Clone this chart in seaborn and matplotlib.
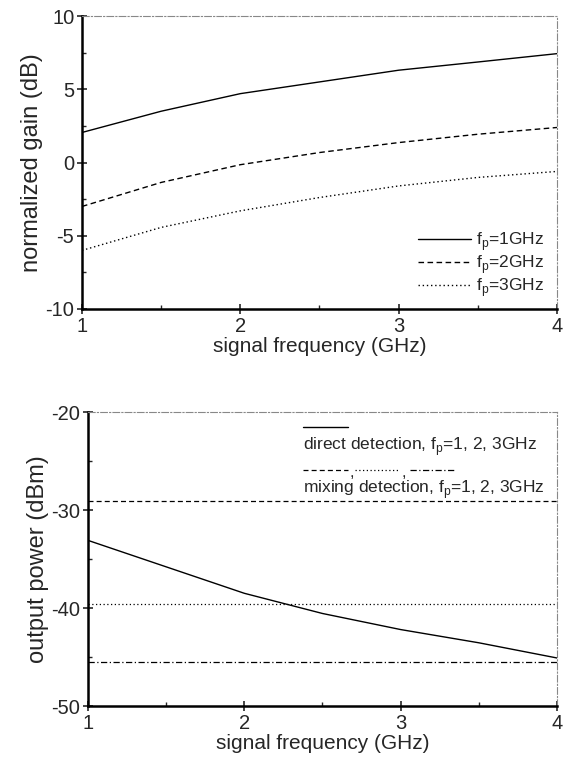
import pandas as pd
import matplotlib.pyplot as plt
import seaborn as sns
from matplotlib.ticker import MultipleLocator

# dados
freq = [1.0, 1.5, 2.0, 2.5, 3.0, 3.5, 4.0]
gain_1ghz = [2.05, 3.5, 4.7, 5.5, 6.3, 6.86, 7.43]
gain_2ghz = [-3.0, -1.36, -0.15, 0.68, 1.36, 1.93, 2.39]
gain_3ghz = [-6.0, -4.43, -3.3, -2.39, -1.6, -1.02, -0.61]
gain_labels = ['f$_\\mathregular{p}$=1GHz', 'f$_\\mathregular{p}$=2GHz', 'f$_\\mathregular{p}$=3GHz']

power_direct = [-33.1, -35.8, -38.5, -40.56, -42.2, -43.55, -45.1]
power_mixing = [-29.07, -39.64, -45.55]  # f=1, 2, 3 GHz (constantes)

sns.set_style('ticks')
plt.rcParams['font.family'] = ['Liberation Sans', 'DejaVu Sans']
plt.rcParams['mathtext.fontset'] = 'custom'
plt.rcParams['mathtext.rm'] = 'Liberation Sans'
plt.rcParams['axes.unicode_minus'] = False

fig = plt.figure(figsize=(5.65, 7.64), dpi=100)
ax1 = fig.add_axes([82 / 565, 1 - 309 / 764, (557 - 82) / 565, (309 - 16) / 764])
ax2 = fig.add_axes([88 / 565, 1 - 706 / 764, (557 - 88) / 565, (706 - 412) / 764])

# painel de cima: ganho normalizado
df_gain = pd.DataFrame({'freq': freq * 3,
                        'gain': gain_1ghz + gain_2ghz + gain_3ghz,
                        'curva': [gain_labels[0]] * 7 + [gain_labels[1]] * 7 + [gain_labels[2]] * 7})
estilos = ['-', (0, (4, 2.5)), (0, (1, 2))]
for lab, ls in zip(gain_labels, estilos):
    sns.lineplot(data=df_gain[df_gain['curva'] == lab], x='freq', y='gain', ax=ax1,
                 color='black', linewidth=1.0, linestyle=ls, label=lab)
ax1.set_ylim(-10, 10)
ax1.yaxis.set_major_locator(MultipleLocator(5))
ax1.yaxis.set_minor_locator(MultipleLocator(2.5))
ax1.set_ylabel('normalized gain (dB)', fontsize=17, labelpad=2)
leg = ax1.legend(loc='lower right', bbox_to_anchor=(1.005, -0.018), frameon=False,
                 fontsize=12.5, handlelength=3.0, handletextpad=0.3, labelspacing=0.0)

# painel de baixo: potência de saída
df_pow = pd.DataFrame({'freq': freq, 'power': power_direct})
sns.lineplot(data=df_pow, x='freq', y='power', ax=ax2, color='black', linewidth=1.0)
estilos_mix = [(0, (4, 2.5)), (0, (1, 2)), (0, (5, 2, 1, 2))]
for val, ls in zip(power_mixing, estilos_mix):
    sns.lineplot(x=[freq[0], freq[-1]], y=[val, val], ax=ax2, color='black',
                 linewidth=0.9, linestyle=ls)
ax2.set_ylim(-50, -20)
ax2.yaxis.set_major_locator(MultipleLocator(10))
ax2.yaxis.set_minor_locator(MultipleLocator(5))
ax2.set_ylabel('output power (dBm)', fontsize=17, labelpad=2)

# legenda manual do painel de baixo
tr = ax2.transAxes
ax2.plot([0.459, 0.555], [0.949, 0.949], transform=tr, color='black', lw=1.0)
ax2.text(0.459, 0.881, 'direct detection, f$_\\mathregular{p}$=1, 2, 3GHz', transform=tr,
         fontsize=12.5, va='center')
ax2.plot([0.459, 0.555], [0.803, 0.803], transform=tr, color='black', lw=0.9, ls=(0, (4, 2.5)))
ax2.text(0.557, 0.795, ',', transform=tr, fontsize=12, va='center')
ax2.plot([0.57, 0.666], [0.803, 0.803], transform=tr, color='black', lw=0.9, ls=(0, (1, 2)))
ax2.text(0.669, 0.795, ',', transform=tr, fontsize=12, va='center')
ax2.plot([0.686, 0.782], [0.803, 0.803], transform=tr, color='black', lw=0.9, ls=(0, (5, 2, 1, 2)))
ax2.text(0.459, 0.735, 'mixing detection, f$_\\mathregular{p}$=1, 2, 3GHz', transform=tr,
         fontsize=12.5, va='center')

for ax in (ax1, ax2):
    ax.set_xlim(1, 4)
    ax.xaxis.set_major_locator(MultipleLocator(1))
    ax.xaxis.set_minor_locator(MultipleLocator(0.5))
    ax.set_xlabel('signal frequency (GHz)', fontsize=15, labelpad=1)
    ax.tick_params(which='major', direction='inout', length=7, width=1.2, labelsize=14.5, pad=2)
    ax.tick_params(which='minor', direction='in', length=3, width=1.0)
    for s in ('left', 'bottom'):
        ax.spines[s].set_linewidth(1.8)
        ax.spines[s].set_color('black')
    for s in ('top', 'right'):
        ax.spines[s].set_visible(True)
        ax.spines[s].set_linewidth(0.8)
        ax.spines[s].set_color('#888888')
        ax.spines[s].set_linestyle((0, (6, 2, 1, 2)))

plt.savefig('out.png', dpi=100)
